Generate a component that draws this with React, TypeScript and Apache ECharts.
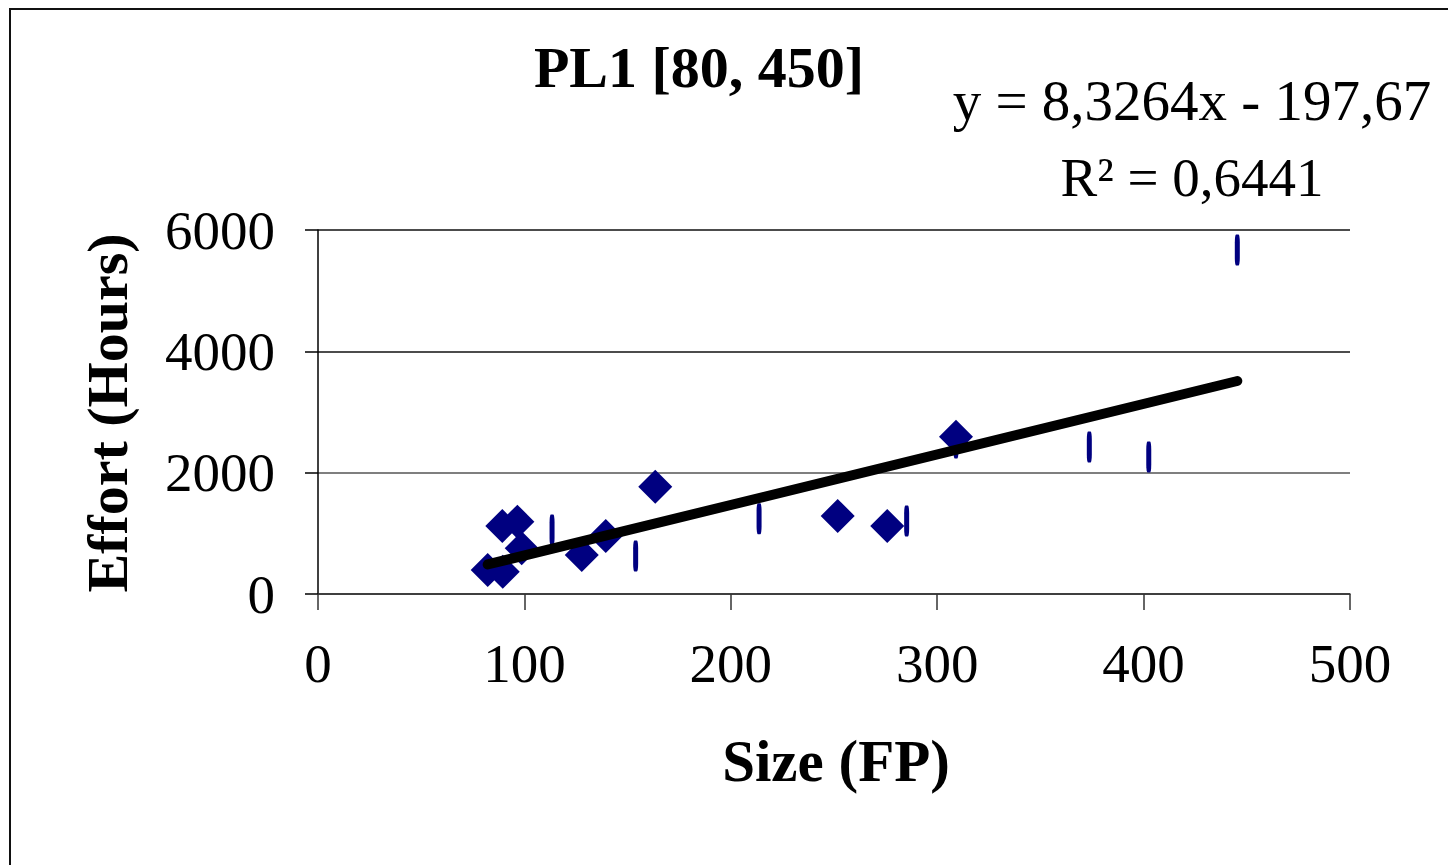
import React, { useEffect, useRef } from "react";
import * as echarts from "echarts";

const diamondX = [82.2, 89.5, 89.3, 96.6, 98.7, 127.8, 139.4, 163.4, 251.8, 275.8, 309.1];
const diamondY = [396, 368, 1121, 1192, 753, 643, 956, 1769, 1286, 1121, 2593];
const dashX = [113.4, 153.9, 213.7, 285.2, 309.1, 373.7, 402.5, 445.4];
const dashY = [1055, 626, 1241, 1203, 2490, 2423, 2258, 5670];
const trendSlope = 8.3264;
const trendIntercept = -197.67;
const trendX = [82.2, 445.4];
const xTicks = [0, 100, 200, 300, 400, 500];
const yTicks = [0, 2000, 4000, 6000];

const titleText = "PL1 [80, 450]";
const eqLine1 = "y = 8,3264x - 197,67";
const eqLine2 = "R\u00B2 = 0,6441";
const xName = "Size (FP)";
const yName = "Effort (Hours)";

const SERIF = '"Liberation Serif", "Times New Roman", serif';

export default function App() {
  const ref = useRef<HTMLDivElement>(null);
  useEffect(() => {
    if (!ref.current) return;
    const chart = echarts.init(ref.current, null, { renderer: "svg" });
    const diamonds = diamondX.map((x, i) => [x, diamondY[i]]);
    const dashes = dashX.map((x, i) => [x, dashY[i]]);
    const trend = trendX.map((x) => [x, trendSlope * x + trendIntercept]);
    chart.setOption({
      animation: false,
      backgroundColor: "#ffffff",
      grid: { left: 318, right: 98, top: 230, bottom: 271, containLabel: false },
      xAxis: {
        type: "value",
        min: xTicks[0],
        max: xTicks[xTicks.length - 1],
        interval: 100,
        axisLine: { show: true, onZero: false, lineStyle: { color: "#333", width: 1.5 } },
        axisTick: { show: true, inside: false, length: 16, lineStyle: { color: "#333", width: 1.5 } },
        axisLabel: { color: "#000", fontFamily: SERIF, fontSize: 55, margin: 42, formatter: (v: number) => String(v) },
        splitLine: { show: false },
      },
      yAxis: {
        type: "value",
        min: yTicks[0],
        max: yTicks[yTicks.length - 1],
        interval: 2000,
        axisLine: { show: true, onZero: false, lineStyle: { color: "#000", width: 1.5 } },
        axisTick: { show: true, inside: false, length: 13, lineStyle: { color: "#000", width: 1.5 } },
        axisLabel: { color: "#000", fontFamily: SERIF, fontSize: 55, margin: 43, formatter: (v: number) => String(v) },
        splitLine: { show: true, lineStyle: { color: ["#333", "#555", "#111", "#111"], width: 1.5 } },
      },
      series: [
        {
          type: "scatter",
          data: dashes,
          symbol: "roundRect",
          symbolSize: [5, 31],
          itemStyle: { color: "#000080", opacity: 1 },
          z: 2,
        },
        {
          type: "scatter",
          data: diamonds,
          symbol: "diamond",
          symbolSize: 34,
          itemStyle: { color: "#000080", opacity: 1 },
          z: 3,
        },
        {
          type: "line",
          data: trend,
          showSymbol: false,
          symbol: "none",
          lineStyle: { color: "#000", width: 10, cap: "round" },
          z: 4,
        },
      ],
      graphic: [
        {
          type: "rect",
          shape: { x: 10, y: 9, width: 1500, height: 920 },
          style: { fill: "none", stroke: "#111", lineWidth: 2 },
          silent: true,
          z: -1,
        },
        {
          type: "text",
          x: 699,
          y: 67,
          style: {
            text: titleText,
            fontFamily: SERIF,
            fontWeight: "bold",
            fontSize: 58,
            fill: "#000",
            align: "center",
            verticalAlign: "middle",
          },
        },
        {
          type: "text",
          x: 1192,
          y: 100,
          style: {
            text: eqLine1,
            fontFamily: SERIF,
            fontSize: 57,
            fill: "#000",
            align: "center",
            verticalAlign: "middle",
          },
        },
        {
          type: "text",
          x: 1192,
          y: 177,
          style: {
            text: eqLine2,
            fontFamily: SERIF,
            fontSize: 55,
            fill: "#000",
            align: "center",
            verticalAlign: "middle",
          },
        },
        {
          type: "text",
          x: 836,
          y: 761,
          style: {
            text: xName,
            fontFamily: SERIF,
            fontWeight: "bold",
            fontSize: 59,
            fill: "#000",
            align: "center",
            verticalAlign: "middle",
          },
        },
        {
          type: "text",
          x: 107,
          y: 413,
          rotation: Math.PI / 2,
          style: {
            text: yName,
            fontFamily: SERIF,
            fontWeight: "bold",
            fontSize: 58,
            fill: "#000",
            align: "center",
            verticalAlign: "middle",
          },
        },
      ],
    });
    return () => chart.dispose();
  }, []);
  return (
    <div
      ref={ref}
      style={{ position: "fixed", left: 0, top: 0, width: 1448, height: 865, background: "#fff" }}
    />
  );
}
